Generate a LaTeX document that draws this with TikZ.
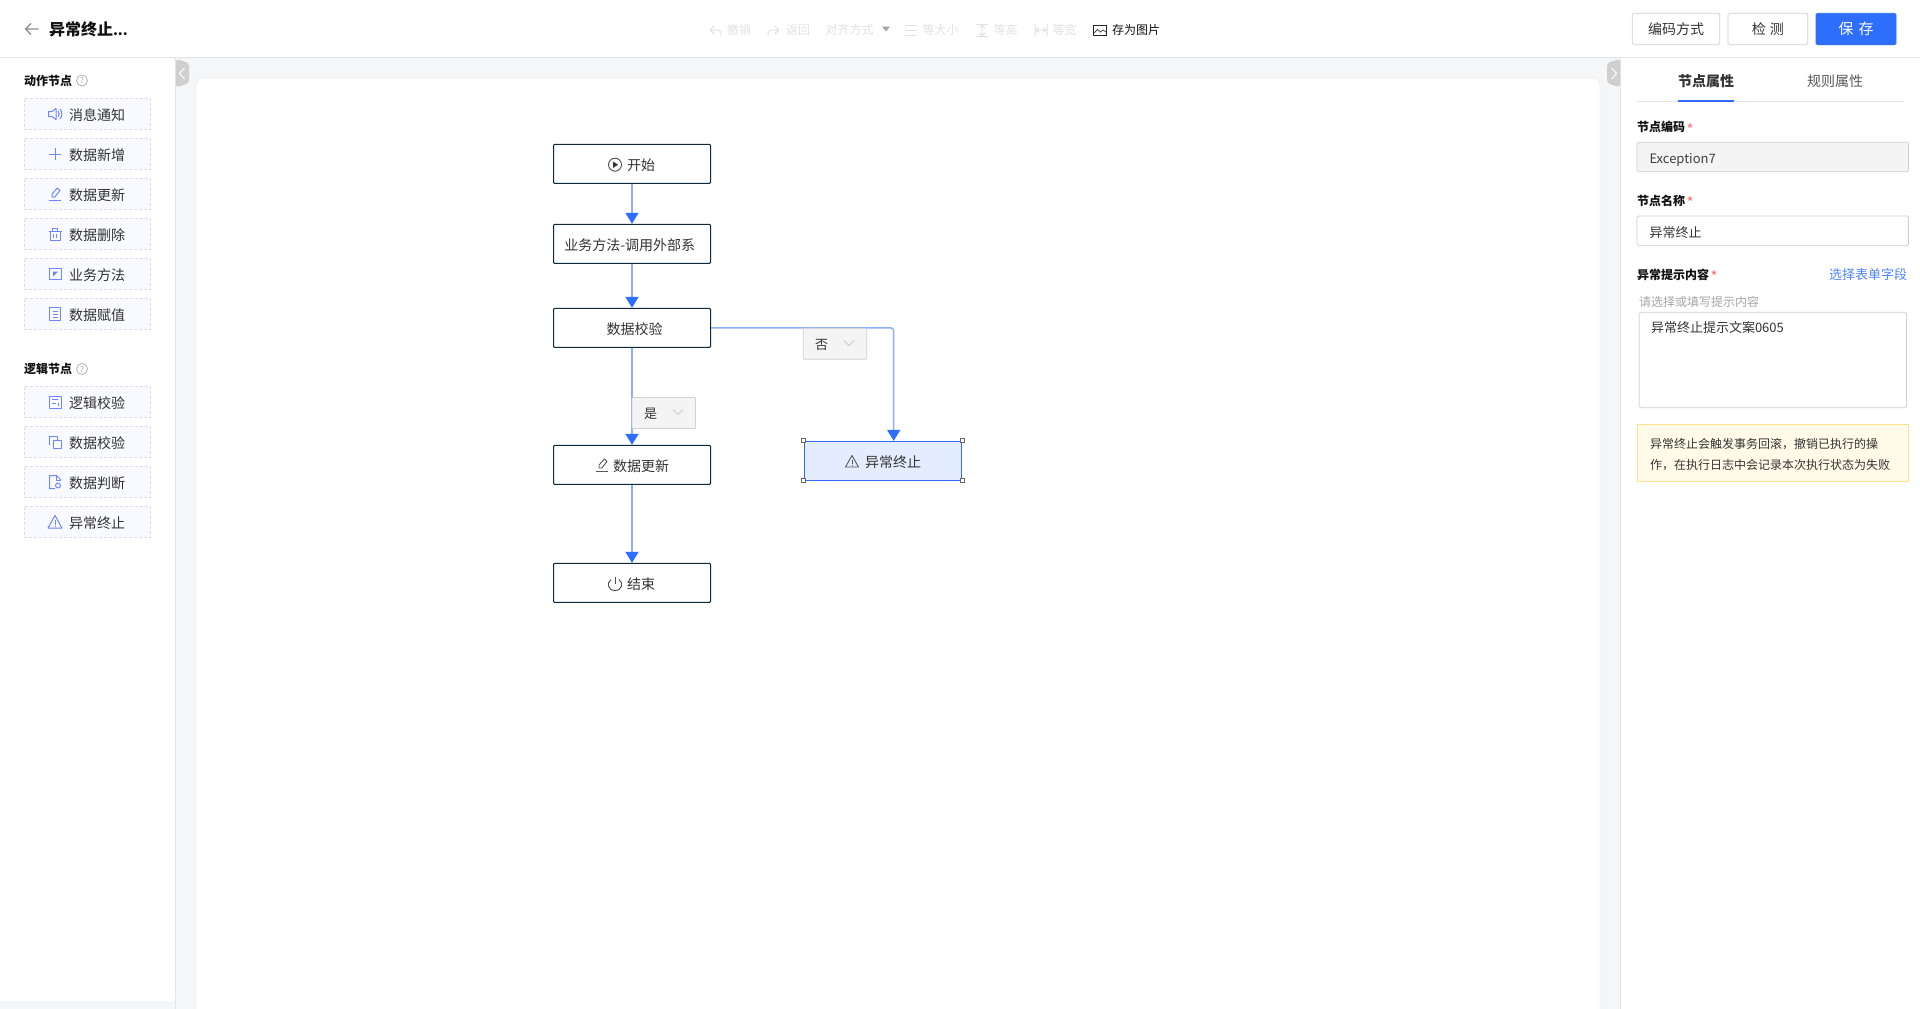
\documentclass[tikz,border=0pt]{standalone}
\usepackage{fontspec}
\setmainfont{Noto Sans CJK SC}
\usetikzlibrary{arrows.meta,calc}
\definecolor{bgc}{HTML}{F5F6F8}
\definecolor{linec}{HTML}{E3E4E7}
\definecolor{handlec}{HTML}{CFCFCF}
\definecolor{flowblue}{HTML}{2E6EFF}
\definecolor{flowline}{HTML}{8CAEFF}
\definecolor{navy}{HTML}{0C2A3C}
\definecolor{itemline}{HTML}{D9DEE9}
\definecolor{itemfill}{HTML}{F9FAFF}
\definecolor{iconc}{HTML}{6D86FF}
\definecolor{textc}{HTML}{333333}
\definecolor{darkc}{HTML}{111111}
\definecolor{dimc}{HTML}{E2E2E2}
\definecolor{fieldline}{HTML}{D0D0D0}
\definecolor{fieldfill}{HTML}{F4F4F4}
\definecolor{selfill}{HTML}{E3EDFF}
\definecolor{warnfill}{HTML}{FFFBE8}
\definecolor{warnline}{HTML}{FFE08F}
\definecolor{starc}{HTML}{FF6B6B}
\newcommand{\fs}[1]{\fontsize{#1}{#1}\selectfont}
\tikzset{
  lbl/.style={inner sep=0pt,outer sep=0pt,anchor=west,text=textc,font=\fs{14}},
  lblc/.style={lbl,anchor=center},
  headlbl/.style={lbl,font=\fs{12}\bfseries,text=darkc},
  dimlbl/.style={lbl,font=\fs{12},text=dimc},
  starlbl/.style={lbl,font=\fs{15},text=starc},
  itembox/.style={draw=itemline,fill=itemfill,line width=0.9pt,dash pattern=on 3pt off 2pt,minimum width=126.2pt,minimum height=31.5pt,inner sep=0pt},
  flowbox/.style={draw=navy,fill=white,line width=1pt,rounded corners=1pt,minimum width=157pt,minimum height=39pt,inner sep=0pt},
  selbox/.style={draw=flowblue,fill=selfill,line width=0.9pt,minimum width=157.4pt,minimum height=39pt,inner sep=0pt},
  grip/.style={draw=black!60,fill=white,line width=0.8pt,minimum size=4pt,inner sep=0pt},
  conn/.style={draw=flowline,line width=1.5pt,-{Triangle[length=11pt,width=13pt,color=flowblue]}},
  condbox/.style={draw=fieldline,fill=fieldfill,line width=0.8pt,rounded corners=1pt,inner sep=0pt,minimum height=31pt,minimum width=63.5pt},
  btn/.style={draw=fieldline,fill=white,line width=0.8pt,rounded corners=1.5pt,inner sep=0pt,minimum height=31.5pt,text=textc,font=\fs{14}},
  field/.style={draw=fieldline,line width=0.8pt,rounded corners=1.5pt,inner sep=0pt},
  ic/.style={draw=iconc,line width=1pt,line join=round},
  icd/.style={draw=dimc,line width=1pt},
  ick/.style={draw=black!65,line width=0.9pt,line join=round},
}
\newcommand{\helpmark}[3]{%
  \node[circle,draw=black!30,line width=0.8pt,minimum size=11pt,inner sep=0pt,text=black!35,font=\fs{8}] (#1) at (#2,#3) {?};}
\newcommand{\palette}[4]{%
  \node[itembox] (#1) at (87.2,#2) {};
  \node[lbl] (#1t) at (69,#2+0.8) {#3};
  \begin{scope}[shift={(55,#2)}]#4\end{scope}}
\newcommand{\pencilic}[1]{%
  \draw[#1] (-3,3) -- (-3,0) -- (2.5,-6) -- (5,-3.5) -- (-0.2,3) -- cycle;
  \draw[#1] (-6.5,6) -- (6,6);}
\begin{document}
\begin{tikzpicture}[x=1pt,y=-1pt]
\useasboundingbox (0,0) rectangle (1920,1009);
% frame
\fill[bgc] (0,0) rectangle (1920,1009);
\fill[white] (0,0) rectangle (1920,57.5);
\draw[linec,line width=1pt] (0,57.5) -- (1920,57.5);
\fill[white,rounded corners=4pt] (0,58) -- (175,58) -- (175,1001) -- (0,1001) -- (-5,1001) -- (-5,58) -- cycle;
\draw[linec,line width=1pt] (175.5,58) -- (175.5,1009);
\fill[white] (1621,58) rectangle (1920,1009);
\draw[linec,line width=1pt] (1620.5,58) -- (1620.5,1009);
\path[fill=white,draw=linec!60,line width=0.6pt,rounded corners=8pt] (195.5,1012) -- (195.5,78) -- (1600,78) -- (1600,1012);
% collapse tabs
\fill[handlec,rounded corners=3pt] (176,59) -- (189,63) -- (189,83) -- (176,87.5) -- cycle;
\draw[white,line width=1pt] (184.5,68) -- (179.5,73.5) -- (184.5,79);
\fill[handlec,rounded corners=3pt] (1620,59) -- (1607,63) -- (1607,83) -- (1620,87.5) -- cycle;
\draw[white,line width=1pt] (1611.5,68) -- (1616.5,73.5) -- (1611.5,79);
% title bar
\draw[black!45,line width=1.2pt] (38.5,29) -- (25.5,29) (31,23.5) -- (25.5,29) -- (31,34.5);
\node[lbl,font=\fs{16}\bfseries,text=darkc] (title) at (49,29) {异常终止\fs{14}...};
% toolbar
\draw[icd] (710,30) -- (714.5,26) (710,30) -- (714.5,34) (710,30) -- (718,30) .. controls (721,30) and (721,32) .. (721,36);
\node[dimlbl] (undo) at (727,30) {撤销};
\draw[icd] (779,30) -- (774.5,26) (779,30) -- (774.5,34) (779,30) -- (771,30) .. controls (768,30) and (768,32) .. (768,36);
\node[dimlbl] (redo) at (786,30) {返回};
\node[dimlbl] (align) at (825.7,30) {对齐方式};
\fill[black!35] (882,26.5) -- (890,26.5) -- (886,31.5) -- cycle;
\draw[icd] (905,25) -- (917,25) (905,30) -- (917,30) (905,35) -- (917,35);
\node[dimlbl] (size) at (922.7,30) {等大小};
\draw[icd] (976,24.5) -- (988,24.5) (976,36.5) -- (988,36.5) (982,25) -- (982,36) (979,28) -- (982,25) -- (985,28) (979,33) -- (982,36) -- (985,33);
\node[dimlbl] (high) at (993.5,30) {等高};
\draw[icd] (1035,24) -- (1035,36) (1047,24) -- (1047,36) (1036,30) -- (1046,30) (1039,27.5) -- (1036,30) -- (1039,32.5) (1043,27.5) -- (1046,30) -- (1043,32.5);
\node[dimlbl] (wide) at (1052.7,30) {等宽};
\draw[black!85,line width=1pt] (1093.5,25.5) rectangle (1106,35.5);
\draw[black!70,line width=0.8pt] (1094,33) -- (1097.5,29.5) -- (1100.5,32) -- (1103,30) -- (1106,32);
\node[lbl,font=\fs{12},text=darkc] (saveimg) at (1112,30) {存为图片};
% top buttons
\node[btn,minimum width=87.4pt] (codebtn) at (1676,29) {编码方式};
\node[btn,minimum width=79.7pt] (checkbtn) at (1767.9,29) {检\hspace{4pt}测};
\node[btn,draw=flowblue,fill=flowblue,text=white,minimum width=80pt,font=\fs{15}] (savebtn) at (1856,29) {保\hspace{5pt}存};
% left palette
\node[headlbl] (acthead) at (24,80.5) {动作节点};
\helpmark{acthelp}{82}{80.5}
\palette{p1}{114}{消息通知}{%
  \draw[ic] (-6.5,-2.5) -- (-3,-2.5) -- (1,-5.5) -- (1,5.5) -- (-3,2.5) -- (-6.5,2.5) -- cycle;
  \draw[ic] (3,-3) .. controls (4.5,-1) and (4.5,1) .. (3,3);
  \draw[ic] (5,-5) .. controls (7.5,-2) and (7.5,2) .. (5,5);}
\palette{p2}{154}{数据新增}{%
  \draw[ic] (-6,0) -- (6,0) (0,-6) -- (0,6);}
\palette{p3}{194}{数据更新}{\pencilic{ic}}
\palette{p4}{234}{数据删除}{%
  \draw[ic] (-5,-3) rectangle (5,6);
  \draw[ic] (-6.5,-3) -- (6.5,-3) (-2.5,-3) -- (-2.5,-5.5) -- (2.5,-5.5) -- (2.5,-3) (-1.7,-0.5) -- (-1.7,3.5) (1.7,-0.5) -- (1.7,3.5);}
\palette{p5}{274}{业务方法}{%
  \draw[ic] (6,1) -- (6,-5.5) -- (-6,-5.5) -- (-6,5.5) -- (6,5.5) -- (6,1);
  \fill[iconc] (-2,-2.5) -- (3,-2.5) -- (-2,2.5) -- cycle;}
\palette{p6}{314}{数据赋值}{%
  \draw[ic] (-5.5,-6.5) rectangle (5.5,6.5);
  \draw[ic] (-2.5,-3) -- (3,-3) (-2.5,0) -- (3,0) (-2.5,3) -- (3,3);}
\node[headlbl] (loghead) at (24,369) {逻辑节点};
\helpmark{loghelp}{82}{369}
\palette{p7}{402}{逻辑校验}{%
  \draw[ic] (-6,-6) rectangle (6,6);
  \draw[ic] (-3,-2.5) -- (3,-2.5) (-3,1) -- (1,1) (3.5,1) -- (3.5,4);}
\palette{p8}{442}{数据校验}{%
  \draw[ic] (-6,3) -- (-6,-6) -- (2,-6) -- (2,-2);
  \draw[ic] (-2,-2) rectangle (6,6);}
\palette{p9}{482}{数据判断}{%
  \draw[ic] (6,-2) -- (1.5,-6.5) -- (-5.5,-6.5) -- (-5.5,6.5) -- (0,6.5);
  \draw[ic] (1.5,-6.5) -- (1.5,-2) -- (6,-2);
  \draw[ic] (3,3.5) circle (2.5pt);}
\palette{p10}{522}{异常终止}{%
  \draw[ic] (0,-6.5) -- (7,6) -- (-7,6) -- cycle;
  \draw[ic] (0,-2) -- (0,2.5) (0,3.5) -- (0,4.7);}
% flow nodes
\node[flowbox] (start) at (632,163.8) {};
\draw[black!70,line width=0.9pt] (615,164.7) circle (6.5pt);
\fill[black!80] (613,161.5) -- (618,164.7) -- (613,168) -- cycle;
\node[lbl] (startt) at (627,165) {开始};
\node[flowbox] (biz) at (632,243.8) {};
\node[lbl] (bizt) at (564.3,245.2) {业务方法-调用外部系};
\node[flowbox] (check) at (632,327.8) {};
\node[lbl] (checkt) at (606.7,329) {数据校验};
\node[flowbox] (update) at (632,464.8) {};
\begin{scope}[shift={(602,465)}]\pencilic{ick}\end{scope}
\node[lbl] (updatet) at (613,466) {数据更新};
\node[flowbox] (finish) at (632,582.8) {};
\draw[black!70,line width=0.9pt] (611,579.5) .. controls (606,583) and (608,590.5) .. (615,590.5) .. controls (622,590.5) and (624,583) .. (619,579.5);
\draw[black!70,line width=0.9pt] (615,577) -- (615,584);
\node[lbl] (finisht) at (627,584) {结束};
\node[selbox] (exc) at (883,460.8) {};
\draw[ick] (852,455.5) -- (858.5,467) -- (845.5,467) -- cycle;
\draw[ick] (852,459.5) -- (852,463.5) (852,464.5) -- (852,465.7);
\node[lbl] (exct) at (865,462) {异常终止};
\node[grip] (g1) at (exc.north west) {};
\node[grip] (g2) at (exc.north east) {};
\node[grip] (g3) at (exc.south west) {};
\node[grip] (g4) at (exc.south east) {};
% connectors
\coordinate (bend) at (893.7,327.8);
\draw[conn] (start.south) -- (biz.north);
\draw[conn] (biz.south) -- (check.north);
\draw[conn] (check.south) -- (update.north);
\draw[conn] (update.south) -- (finish.north);
\draw[conn,rounded corners=3pt] (check.east) -- (bend) -- (bend |- exc.north);
% condition labels
\node[condbox] (no) at (835,343.8) {};
\node[lbl,font=\fs{13}] (not) at (815,345) {否};
\draw[black!20,line width=0.9pt] (844,340.5) -- (849,345.5) -- (854,340.5);
\node[condbox] (yes) at (663.8,413) {};
\node[lbl,font=\fs{13}] (yest) at (644,414) {是};
\draw[black!20,line width=0.9pt] (673,409.5) -- (678,414.5) -- (683,409.5);
% right panel
\node[lbl,font=\fs{14}\bfseries,text=textc] (tab1) at (1678,81) {节点属性};
\node[lbl,text=black!65] (tab2) at (1807,81) {规则属性};
\draw[linec,line width=1pt] (1637,101) -- (1904,101);
\draw[flowblue,line width=2pt] (1678,101) -- (1734,101);
\node[headlbl] (h1) at (1637,127) {节点编码};
\node[starlbl] (s1) at (1686.5,129.5) {*};
\node[field,fill=fieldfill,minimum width=271.5pt,minimum height=29.5pt] (code) at (1772.8,157) {};
\node[lbl,font=\fs{13},text=black!75] (codet) at (1649.5,159.5) {Exception7};
\node[headlbl] (h2) at (1637,200.5) {节点名称};
\node[starlbl] (s2) at (1686.5,203) {*};
\node[field,fill=white,minimum width=271.5pt,minimum height=29.7pt] (name) at (1772.8,230.8) {};
\node[lbl,font=\fs{13}] (namet) at (1649.5,232.5) {异常终止};
\node[headlbl] (h3) at (1637,274.7) {异常提示内容};
\node[starlbl] (s3) at (1710.5,277) {*};
\node[lbl,font=\fs{13},text=flowblue!85] (pick) at (1829,274.5) {选择表单字段};
\node[lbl,font=\fs{12},text=black!35] (ph) at (1639,301.5) {请选择或填写提示内容};
\node[field,fill=white,minimum width=267.2pt,minimum height=95.4pt] (area) at (1772.9,360) {};
\node[lbl,font=\fs{13}] (areat) at (1651,327.5) {异常终止提示文案0605};
\node[draw=warnline,fill=warnfill,line width=0.9pt,inner sep=0pt,minimum width=271.5pt,minimum height=57.3pt] (warn) at (1772.8,452.7) {};
\node[lbl,font=\fs{12}] (w1) at (1650,444) {异常终止会触发事务回滚，撤销已执行的操};
\node[lbl,font=\fs{12}] (w2) at (1650,464.7) {作，在执行日志中会记录本次执行状态为失败};
\end{tikzpicture}
\end{document}
